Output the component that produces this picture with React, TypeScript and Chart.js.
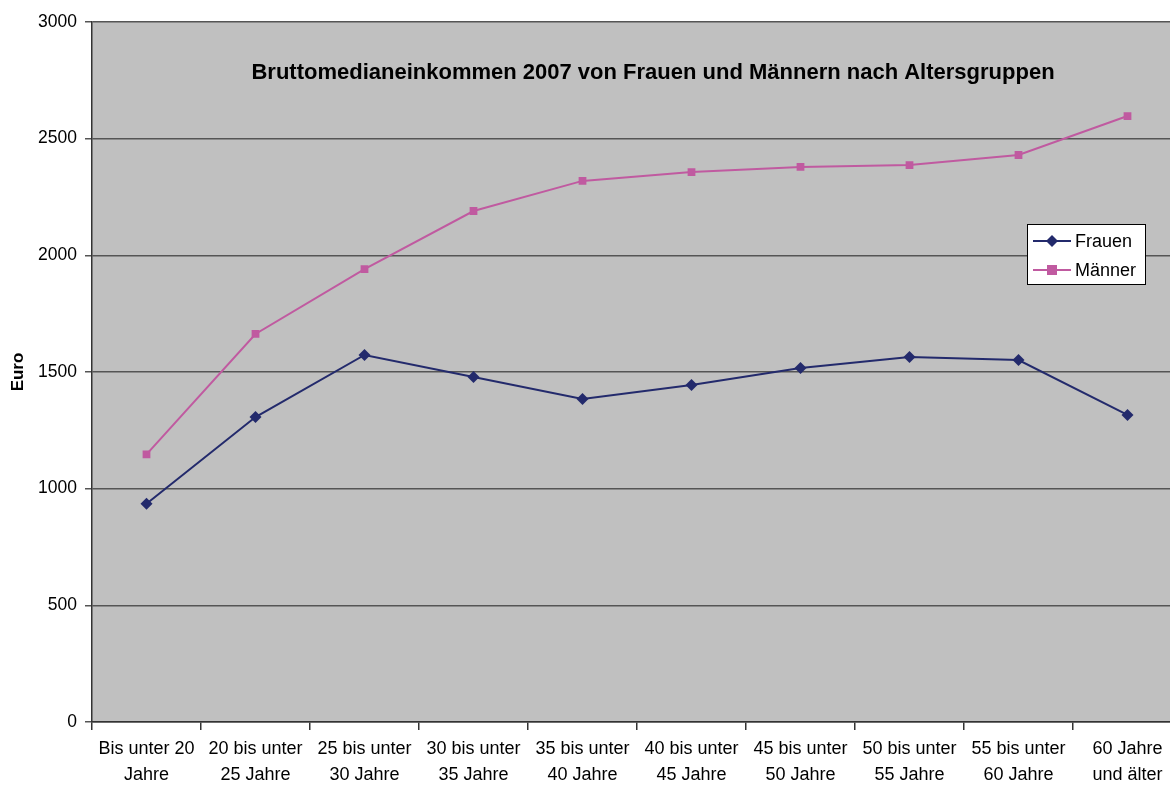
import React, { useEffect, useRef } from "react";
import { Chart, registerables } from "chart.js";

Chart.register(...registerables);

const categories: string[][] = [
  ["Bis unter 20", "Jahre"],
  ["20 bis unter", "25 Jahre"],
  ["25 bis unter", "30 Jahre"],
  ["30 bis unter", "35 Jahre"],
  ["35 bis unter", "40 Jahre"],
  ["40 bis unter", "45 Jahre"],
  ["45 bis unter", "50 Jahre"],
  ["50 bis unter", "55 Jahre"],
  ["55 bis unter", "60 Jahre"],
  ["60 Jahre", "und älter"],
];
const frauen: number[] = [935, 1307, 1573, 1479, 1384, 1444, 1517, 1564, 1551, 1316];
const maenner: number[] = [1147, 1663, 1941, 2190, 2319, 2357, 2379, 2387, 2430, 2597];
const yTicks: number[] = [0, 500, 1000, 1500, 2000, 2500, 3000];
const titleText = "Bruttomedianeinkommen 2007 von Frauen und Männern nach Altersgruppen";
const yTitle = "Euro";

const FONT = "'Liberation Sans', Arial, sans-serif";
const NAVY = "#232a6c";
const PINK = "#c05aa0";

const bgPlugin = {
  id: "plotBg",
  beforeDraw(chart: any) {
    const { ctx, chartArea } = chart;
    ctx.save();
    ctx.fillStyle = "#c0c0c0";
    ctx.fillRect(chartArea.left, chartArea.top, chartArea.right - chartArea.left, chartArea.bottom - chartArea.top);
    ctx.restore();
  },
};

const overlayPlugin = {
  id: "overlay",
  afterDraw(chart: any) {
    const { ctx } = chart;
    ctx.save();
    // title
    ctx.font = `bold 22px ${FONT}`;
    ctx.fillStyle = "#000";
    ctx.textAlign = "center";
    ctx.textBaseline = "middle";
    ctx.fillText(titleText, 653, 73);
    // legend
    const bx = 1027, by = 224, bw = 118, bh = 60;
    ctx.fillStyle = "#fff";
    ctx.fillRect(bx, by, bw, bh);
    ctx.strokeStyle = "#000";
    ctx.lineWidth = 1;
    ctx.strokeRect(bx + 0.5, by + 0.5, bw, bh);
    const items = chart.data.datasets;
    items.forEach((ds: any, i: number) => {
      const y = by + 17 + i * 29;
      ctx.strokeStyle = ds.borderColor;
      ctx.lineWidth = 2;
      ctx.beginPath();
      ctx.moveTo(bx + 6, y);
      ctx.lineTo(bx + 44, y);
      ctx.stroke();
      ctx.fillStyle = ds.borderColor;
      const cx = bx + 25;
      if (ds.pointStyle === "rectRot") {
        ctx.beginPath();
        ctx.moveTo(cx, y - 6);
        ctx.lineTo(cx + 6, y);
        ctx.lineTo(cx, y + 6);
        ctx.lineTo(cx - 6, y);
        ctx.closePath();
        ctx.fill();
      } else {
        ctx.fillRect(cx - 5, y - 5, 10, 10);
      }
      ctx.fillStyle = "#000";
      ctx.font = `18px ${FONT}`;
      ctx.textAlign = "left";
      ctx.textBaseline = "middle";
      ctx.fillText(ds.label, bx + 48, y + 1);
    });
    ctx.restore();
  },
};

export default function App() {
  const ref = useRef<HTMLCanvasElement | null>(null);
  useEffect(() => {
    if (!ref.current) return;
    const chart = new Chart(ref.current, {
      type: "line",
      data: {
        labels: categories,
        datasets: [
          {
            label: "Frauen",
            data: frauen,
            borderColor: NAVY,
            backgroundColor: NAVY,
            borderWidth: 2,
            pointStyle: "rectRot",
            pointRadius: 6,
            pointBorderWidth: 0,
            tension: 0,
          },
          {
            label: "Männer",
            data: maenner,
            borderColor: PINK,
            backgroundColor: PINK,
            borderWidth: 2,
            pointStyle: "rect",
            pointRadius: 5.5,
            pointBorderWidth: 0,
            tension: 0,
          },
        ],
      },
      options: {
        animation: false,
        responsive: false,
        devicePixelRatio: 1,
        layout: { padding: { top: 22, right: 0, left: 0, bottom: 0 } },
        plugins: {
          legend: { display: false },
          title: { display: false },
          tooltip: { enabled: false },
        },
        scales: {
          x: {
            type: "category",
            offset: true,
            grid: {
              offset: true,
              drawOnChartArea: false,
              drawTicks: true,
              tickLength: 8,
              color: "#333",
              lineWidth: 1.5,
            },
            border: { color: "#333", width: 1.5 },
            ticks: {
              color: "#000",
              font: { family: FONT, size: 18, lineHeight: 1.45 },
              maxRotation: 0,
              autoSkip: false,
              padding: 6,
            },
            afterFit(scale: any) {
              scale.height = 65;
              scale.paddingRight = 0;
              scale.paddingLeft = 0;
            },
          },
          y: {
            min: 0,
            max: 3000,
            afterBuildTicks(scale: any) {
              scale.ticks = yTicks.map((v) => ({ value: v }));
            },
            grid: {
              color: "#555",
              lineWidth: 1.5,
              drawTicks: true,
              tickLength: 7,
            },
            border: { color: "#333", width: 1.5 },
            ticks: {
              color: "#000",
              font: { family: FONT, size: 17.5 },
              padding: 8,
              callback: (v: any) => String(v),
            },
            title: {
              display: true,
              text: yTitle,
              color: "#000",
              font: { family: FONT, size: 17, weight: "bold" },
              padding: { top: 8, bottom: 0 },
            },
            afterFit(scale: any) {
              scale.width = 92;
            },
          },
        },
      },
      plugins: [bgPlugin, overlayPlugin],
    } as any);
    return () => chart.destroy();
  }, []);
  return (
    <div style={{ position: "fixed", left: 0, top: 0, width: 1170, height: 787, background: "#fff", overflow: "hidden" }}>
      <canvas ref={ref} width={1188} height={787} style={{ width: 1188, height: 787, display: "block" }} />
    </div>
  );
}
